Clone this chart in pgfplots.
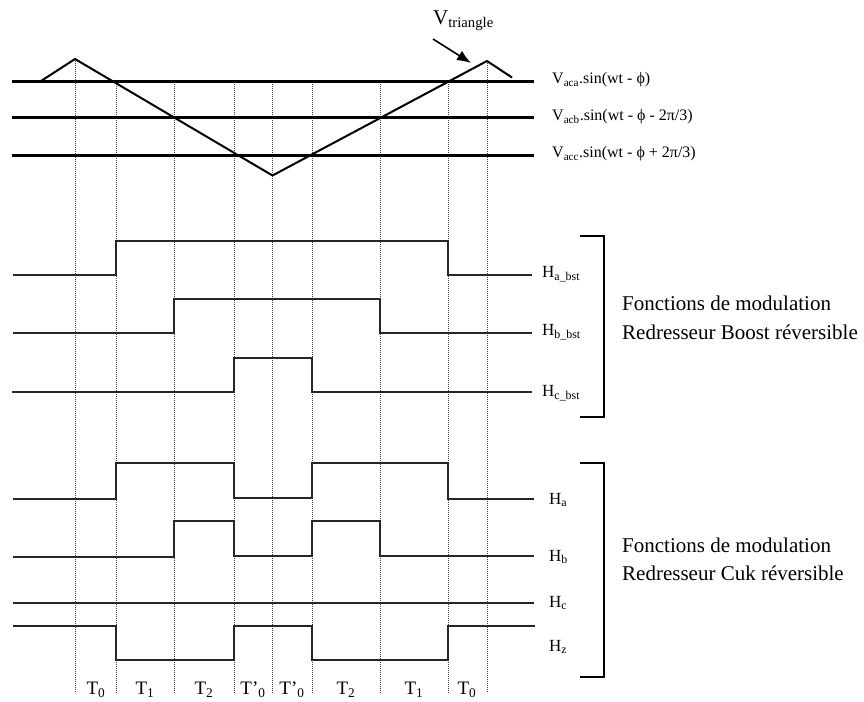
\documentclass[border=0pt]{standalone}
\usepackage{fontspec}
\setmainfont{Liberation Serif}
\usepackage{pgfplots}
\pgfplotsset{compat=1.18}
\usetikzlibrary{arrows.meta}

\tikzset{
    grille/.style={black!75, line width=0.8pt, dash pattern=on 0.9pt off 1.1pt},
    porteuse/.style={black, line width=2.3pt},
    signal/.style={black!85, line width=1.7pt, line join=miter},
    accolade/.style={black, line width=2pt, line join=miter},
    lbl/.style={inner sep=0pt, anchor=west},
}

\begin{document}
\begin{tikzpicture}
\begin{axis}[
    hide axis,
    scale only axis,
    width=864pt, height=701pt,
    xmin=0, xmax=864, ymin=0, ymax=701,
    y dir=reverse,
    clip=false,
    every axis plot/.append style={mark=none},
]
% cadre invisible
\addplot[draw=none] coordinates {(0,0) (864,701)};

% lignes de temps (pointillés)
\addplot[grille] coordinates {(75,59) (75,693)};
\addplot[grille] coordinates {(116,82) (116,693)};
\addplot[grille] coordinates {(174,82) (174,693)};
\addplot[grille] coordinates {(234,82) (234,693)};
\addplot[grille] coordinates {(272,82) (272,693)};
\addplot[grille] coordinates {(312,82) (312,693)};
\addplot[grille] coordinates {(380,82) (380,693)};
\addplot[grille] coordinates {(448,82) (448,693)};
\addplot[grille] coordinates {(487,61) (487,693)};

% modulantes
\addplot[porteuse] coordinates {(12,81.5) (534,81.5)};
\addplot[porteuse] coordinates {(12,117.5) (534,117.5)};
\addplot[porteuse] coordinates {(12,155.5) (534,155.5)};

% triangle
\addplot[black, line width=2pt] coordinates {(41,81) (75,59) (272.5,175.5) (487,61) (512,77.5)};
\addplot[black, line width=1.6pt, -{Latex[length=14pt,width=11pt]}] coordinates {(433,39) (471,63)};

% Boost
\addplot[signal] coordinates {(13,275) (116,275) (116,241) (448,241) (448,275) (532,275)};
\addplot[signal] coordinates {(13,333) (174,333) (174,299) (380,299) (380,333) (532,333)};
\addplot[signal] coordinates {(12,392) (234,392) (234,358) (312,358) (312,392) (532,392)};

% Cuk
\addplot[signal] coordinates {(13,499) (116,499) (116,463) (234,463) (234,498) (312,498) (312,463) (448,463) (448,499) (534,499)};
\addplot[signal] coordinates {(13,557) (174,557) (174,521) (234,521) (234,556) (312,556) (312,521) (380,521) (380,556) (534,556)};
\addplot[signal] coordinates {(13,603) (534,603)};
\addplot[signal] coordinates {(13,626) (116,626) (116,660) (234,660) (234,626) (312,626) (312,660) (448,660) (448,626) (535,626)};

% accolades
\addplot[accolade] coordinates {(580,236) (604,236) (604,417) (580,417)};
\addplot[accolade] coordinates {(580,463) (604,463) (604,677) (580,677)};

% textes
\node[lbl] at (axis cs:433,21) {\fontsize{21}{25}\selectfont V\textsubscript{triangle}};
\node[lbl] at (axis cs:552,80) {\fontsize{16}{19}\selectfont V\textsubscript{aca}.sin(wt - ϕ)};
\node[lbl] at (axis cs:552,117) {\fontsize{16}{19}\selectfont V\textsubscript{acb}.sin(wt - ϕ - 2π/3)};
\node[lbl] at (axis cs:552,154) {\fontsize{16}{19}\selectfont V\textsubscript{acc}.sin(wt - ϕ + 2π/3)};

\node[lbl] at (axis cs:542,274) {\fontsize{17}{19}\selectfont H\textsubscript{a\_bst}};
\node[lbl] at (axis cs:542,332) {\fontsize{17}{19}\selectfont H\textsubscript{b\_bst}};
\node[lbl] at (axis cs:542,393) {\fontsize{17}{19}\selectfont H\textsubscript{c\_bst}};
\node[lbl] at (axis cs:549,500) {\fontsize{17}{19}\selectfont H\textsubscript{a}};
\node[lbl] at (axis cs:549,557) {\fontsize{17}{19}\selectfont H\textsubscript{b}};
\node[lbl] at (axis cs:549,603) {\fontsize{17}{19}\selectfont H\textsubscript{c}};
\node[lbl] at (axis cs:549,647) {\fontsize{17}{19}\selectfont H\textsubscript{z}};

\node[lbl] at (axis cs:622,303) {\fontsize{21}{25}\selectfont Fonctions de modulation};
\node[lbl] at (axis cs:622,332) {\fontsize{21}{25}\selectfont Redresseur Boost réversible};
\node[lbl] at (axis cs:622,545) {\fontsize{21}{25}\selectfont Fonctions de modulation};
\node[lbl] at (axis cs:622,573) {\fontsize{21}{25}\selectfont Redresseur Cuk réversible};

\node[inner sep=0pt] at (axis cs:96,690) {\fontsize{19}{22}\selectfont T\textsubscript{0}};
\node[inner sep=0pt] at (axis cs:145,690) {\fontsize{19}{22}\selectfont T\textsubscript{1}};
\node[inner sep=0pt] at (axis cs:204,690) {\fontsize{19}{22}\selectfont T\textsubscript{2}};
\node[inner sep=0pt] at (axis cs:253,690) {\fontsize{19}{22}\selectfont T’\textsubscript{0}};
\node[inner sep=0pt] at (axis cs:292,690) {\fontsize{19}{22}\selectfont T’\textsubscript{0}};
\node[inner sep=0pt] at (axis cs:346,690) {\fontsize{19}{22}\selectfont T\textsubscript{2}};
\node[inner sep=0pt] at (axis cs:414,690) {\fontsize{19}{22}\selectfont T\textsubscript{1}};
\node[inner sep=0pt] at (axis cs:467,690) {\fontsize{19}{22}\selectfont T\textsubscript{0}};
\end{axis}
\end{tikzpicture}
\end{document}
